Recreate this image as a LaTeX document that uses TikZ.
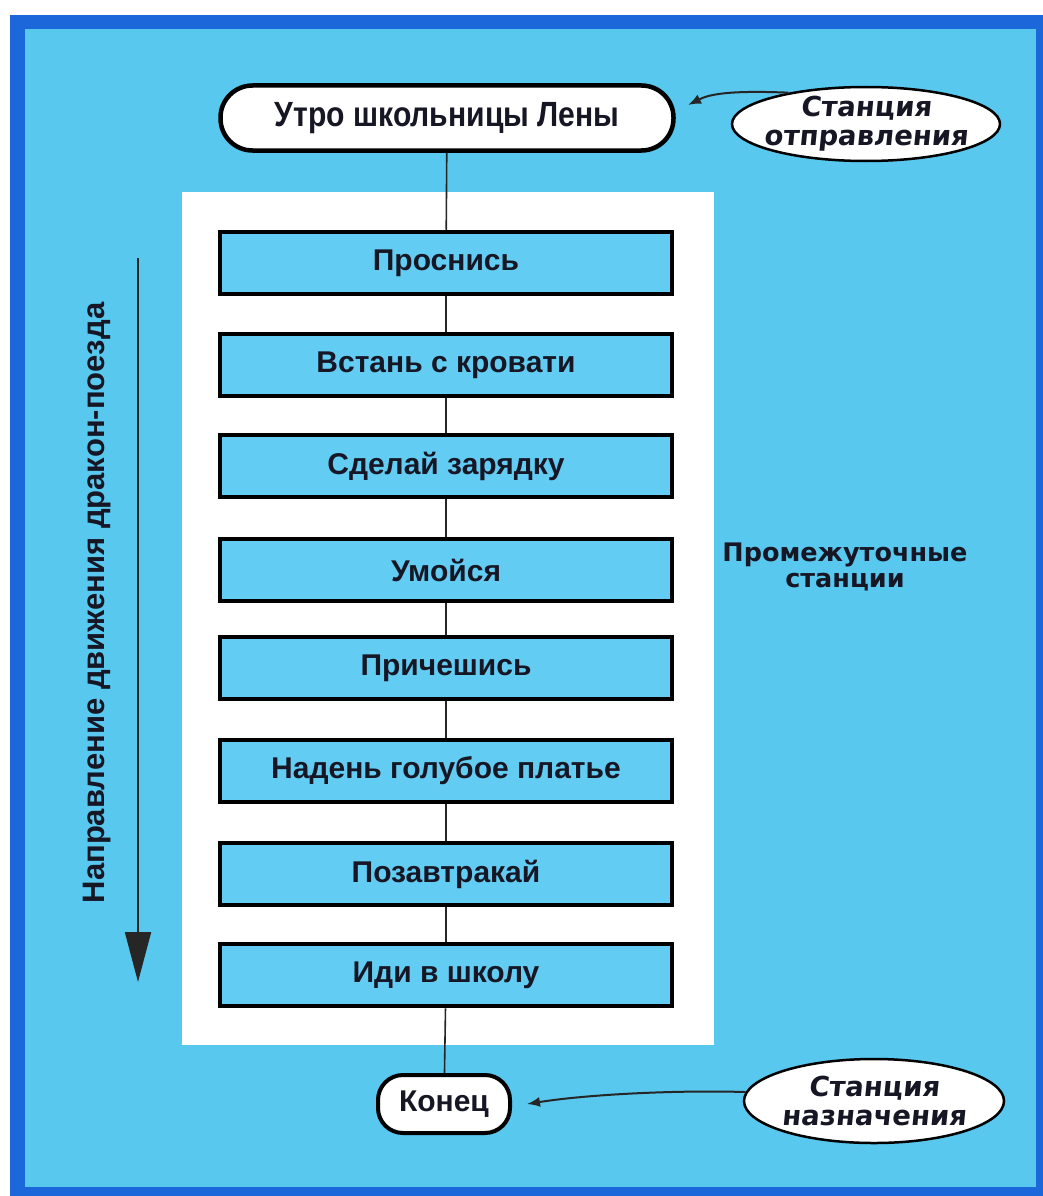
\documentclass[tikz,border=0pt]{standalone}
\usepackage{fontspec}
\setmainfont{Liberation Sans}
\newfontfamily\narrowf[FakeStretch=0.86]{Liberation Sans}
\newfontfamily\calloutf[FakeSlant=0.1]{DejaVu Sans}
\newfontfamily\midf{DejaVu Sans}
\usetikzlibrary{shapes.geometric,arrows.meta}
\definecolor{bgblue}{RGB}{88,200,238}
\definecolor{boxfill}{RGB}{98,204,242}
\definecolor{framec}{RGB}{28,104,218}
\definecolor{ink}{RGB}{22,22,36}
\begin{document}
\begin{tikzpicture}[x=1pt,y=-1pt,
  stepbox/.style={draw=black, line width=4.5pt, fill=boxfill, minimum width=452pt,
    minimum height=62pt, inner sep=0pt, text=ink,
    font=\fontsize{30}{32}\selectfont\bfseries},
  termbox/.style={draw=black, line width=4.5pt, fill=white, inner sep=0pt, text=ink},
  callout/.style={ellipse, draw=black, line width=2.5pt, fill=white, inner sep=-16pt,
    align=center, text=ink, font=\calloutf\bfseries\fontsize{27.5}{29}\selectfont},
  flow/.style={line width=1.6pt, draw=black!85},
  pointer/.style={line width=2pt, draw=black!85, -{Latex[length=13pt,width=10pt]}}
]
\useasboundingbox (0,0) rectangle (1043,1196);
% page and frame
\fill[white] (0,0) rectangle (1043,1196);
\fill[framec] (10,15) rectangle (1043,1196);
\fill[bgblue] (25,29) rectangle (1036,1187);
% white panel
\fill[white] (182,192) rectangle (714,1045);

% start terminal
\node[termbox, minimum width=453pt, minimum height=65pt, rounded corners=32pt,
  font=\narrowf\bfseries\fontsize{35}{37}\selectfont] (start) at (447,118) {Утро школьницы Лены};

% steps
\node[stepbox] (s1) at (446,263) {Проснись};
\node[stepbox] (s2) at (446,365) {Встань с кровати};
\node[stepbox] (s3) at (446,466) {Сделай зарядку};
\node[stepbox] (s4) at (446,570) {Умойся};
\node[stepbox] (s5) at (446,668) {Причешись};
\node[stepbox] (s6) at (446,771) {Надень голубое платье};
\node[stepbox] (s7) at (446,874) {Позавтракай};
\node[stepbox] (s8) at (446,975) {Иди в школу};

% end terminal
\node[termbox, minimum width=132pt, minimum height=58pt, rounded corners=25pt, line width=4pt,
  font=\fontsize{30}{32}\selectfont\bfseries] (end) at (444,1104) {Конец};

% flow line
\draw[flow] (start) -- (s1);
\draw[flow] (s1) -- (s2);
\draw[flow] (s2) -- (s3);
\draw[flow] (s3) -- (s4);
\draw[flow] (s4) -- (s5);
\draw[flow] (s5) -- (s6);
\draw[flow] (s6) -- (s7);
\draw[flow] (s7) -- (s8);
\draw[flow] (s8) -- (end);

% callouts
\node[callout, minimum width=268pt, minimum height=74pt] (c1) at (866,124) {Станция\\отправления};
\coordinate (t1) at (688,105);
\draw[pointer] (c1.158) .. controls (725,90) and (708,95) .. (t1);

\node[callout, minimum width=260pt, minimum height=84pt] (c2) at (874,1101) {Станция\\назначения};
\coordinate (t2) at (527,1104);
\draw[pointer] (c2.176) .. controls (680,1090) and (590,1094) .. (t2);

% intermediate stations label
\node[align=center, text=ink, font=\midf\bfseries\fontsize{25.5}{26}\selectfont] (mid) at (845,567)
  {Промежуточные\\станции};

% direction arrow
\coordinate (da) at (138,258);
\coordinate (db) at (138,982);
\draw[line width=2pt, draw=black!85, -{Triangle[length=50pt,width=26pt]}] (da) -- (db);
\node[rotate=90, text=ink, font=\bfseries\fontsize{31}{32}\selectfont] (dir) at (97,603)
  {Направление движения дракон-поезда};
\end{tikzpicture}
\end{document}
